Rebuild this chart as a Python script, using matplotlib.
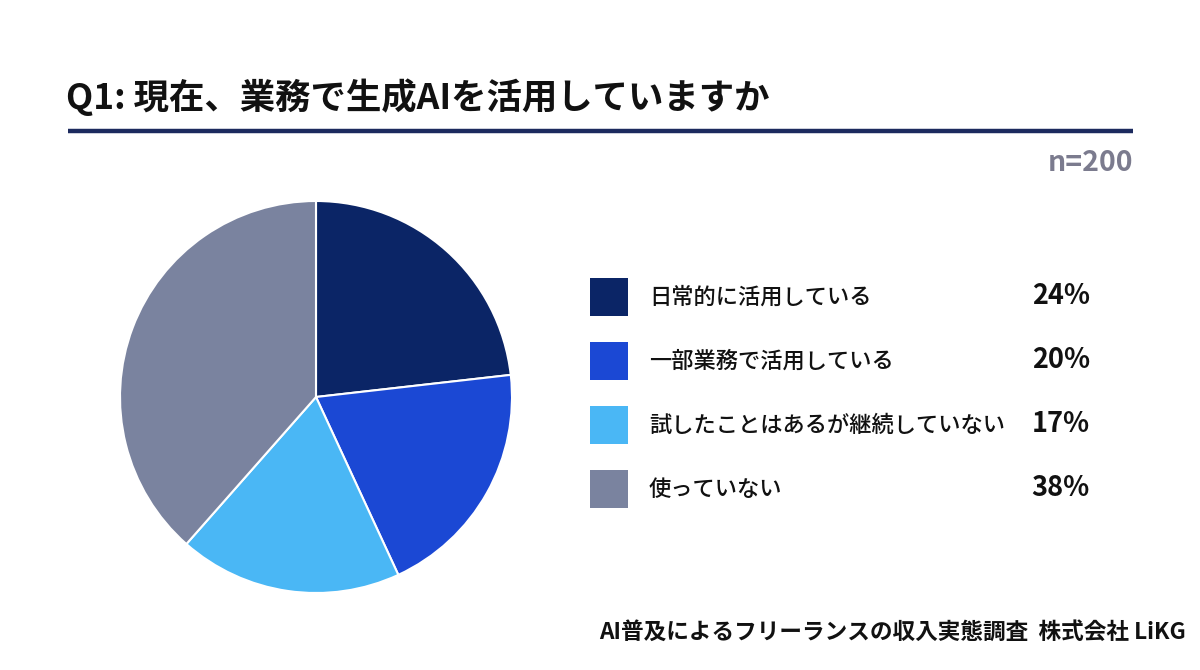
import matplotlib
matplotlib.use("Agg")
import matplotlib.pyplot as plt
from matplotlib.patches import Rectangle

plt.rcParams['font.family'] = ['Noto Sans CJK JP', 'DejaVu Sans']

title = "Q1: 現在、業務で生成AIを活用していますか"
categories = ["日常的に活用している", "一部業務で活用している", "試したことはあるが継続していない", "使っていない"]
values = [24, 20, 17, 38]                 # percentages printed in the legend
slice_shares = [23.2, 19.9, 18.4, 38.5]   # slice sizes as drawn in the picture
colors = ["#0b2566", "#1b48d4", "#4ab7f5", "#7a839f"]
n_label = "n=200"
source = "AI普及によるフリーランスの収入実態調査  株式会社 LiKG"

W, H = 1200, 670
fig = plt.figure(figsize=(W / 100, H / 100), dpi=100)
fig.patch.set_facecolor("white")

def fx(x):
    return x / W

def fy(y):
    return 1 - y / H

# Title
fig.text(fx(66), fy(97), title, fontsize=25.5, fontweight="bold", color="#111111",
         ha="left", va="center")
# Divider line
fig.add_artist(plt.Line2D([fx(68), fx(1133)], [fy(131), fy(131)], color="#1c2a5e",
                          linewidth=3.2, solid_capstyle="butt", transform=fig.transFigure))
fig.text(fx(1133), fy(163), n_label, fontsize=20.5, fontweight="bold", color="#7b7b8e",
         ha="right", va="center")

# Pie
cx, cy, r = 316, 397, 196
ax = fig.add_axes([fx(cx - r), fy(cy + r), 2 * r / W, 2 * r / H])
ax.pie(slice_shares, colors=colors, startangle=90, counterclock=False,
       wedgeprops=dict(edgecolor="white", linewidth=1.5))
ax.set_xlim(-1, 1)
ax.set_ylim(-1, 1)
ax.set_aspect("auto")
ax.axis("off")

# Legend
ys = [297, 361, 425, 489]
for y, cat, val, col in zip(ys, categories, values, colors):
    fig.add_artist(Rectangle((fx(590), fy(y + 19)), 38 / W, 38 / H, facecolor=col,
                             edgecolor="none", transform=fig.transFigure))
    fig.text(fx(649), fy(y), cat, fontsize=16, fontweight="medium", color="#111111",
             ha="left", va="center")
    fig.text(fx(1090), fy(y - 1), f"{val}%", fontsize=19.5, fontweight="bold", color="#111111",
             ha="right", va="center")

fig.text(fx(1186), fy(632), source, fontsize=16.3, fontweight="bold", color="#111111",
         ha="right", va="center")

fig.savefig("out.png", dpi=100, facecolor="white")
